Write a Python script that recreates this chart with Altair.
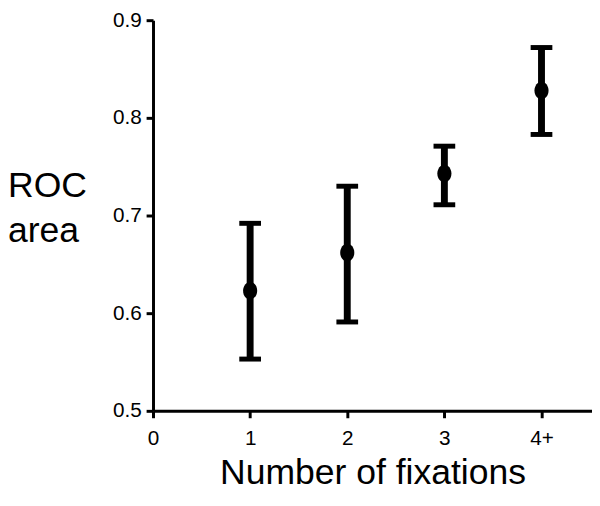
import altair as alt
import pandas as pd

x_pos = [1, 2, 3, 4]
roc_mean = [0.623, 0.662, 0.743, 0.828]
roc_low = [0.553, 0.591, 0.711, 0.783]
roc_high = [0.692, 0.730, 0.771, 0.872]
x_ticks = [0, 1, 2, 3, 4]
x_tick_labels = ["0", "1", "2", "3", "4+"]
y_ticks = [0.5, 0.6, 0.7, 0.8, 0.9]
y_title_lines = ["ROC", "area"]

df = pd.DataFrame({"x": x_pos, "m": roc_mean, "lo": roc_low, "hi": roc_high})

FONT = "Liberation Sans"
W, H = 445, 396

label_expr = " : ".join(
    f"datum.value == {v} ? '{l}'" for v, l in zip(x_ticks[:-1], x_tick_labels[:-1])
) + f" : '{x_tick_labels[-1]}'"

xs = alt.Scale(domain=[0, 4.52], nice=False, zero=False)
ys = alt.Scale(domain=[0.5, 0.9], nice=False, zero=False)

common = dict(grid=False, domainColor="#000000", domainWidth=3, domainOpacity=1,
              tickColor="#000000", tickWidth=3, tickSize=7, tickOpacity=1,
              labelFont=FONT, labelFontSize=21, labelColor="#000000", labelFlush=False)
xaxis = alt.Axis(values=x_ticks, labelExpr=label_expr, title="Number of fixations",
                 labelPadding=10, titleFont=FONT, titleFontSize=36, titleFontWeight="normal",
                 titleColor="#000000", titlePadding=8, **common)
yaxis = alt.Axis(values=y_ticks, format=".1f", title=None, labelPadding=5, **common)

base = alt.Chart(df)
rules = base.mark_rule(color="black", strokeWidth=7).encode(
    x=alt.X("x:Q", scale=xs, axis=xaxis), y=alt.Y("lo:Q", scale=ys, axis=yaxis), y2="hi:Q")
cap_lo = base.mark_tick(color="black", opacity=1, orient="horizontal", thickness=5, size=22).encode(
    x=alt.X("x:Q", scale=xs, axis=xaxis), y=alt.Y("lo:Q", scale=ys, axis=yaxis))
cap_hi = base.mark_tick(color="black", opacity=1, orient="horizontal", thickness=5, size=22).encode(
    x=alt.X("x:Q", scale=xs, axis=xaxis), y=alt.Y("hi:Q", scale=ys, axis=yaxis))
pts = base.mark_point(
    filled=True, color="black", opacity=1, size=320,
    shape="M-0.8,0A0.8,1,0,1,1,0.8,0A0.8,1,0,1,1,-0.8,0Z").encode(
    x=alt.X("x:Q", scale=xs, axis=xaxis), y=alt.Y("m:Q", scale=ys, axis=yaxis))

ylabs = [
    alt.Chart(pd.DataFrame({"t": [t]})).mark_text(
        font=FONT, fontSize=36, color="black", align="left", baseline="alphabetic").encode(
        x=alt.value(-147), y=alt.value(yv), text="t:N")
    for t, yv in zip(y_title_lines, [179, 225])
]

chart = alt.layer(rules, cap_lo, cap_hi, pts, *ylabs).properties(
    width=W, height=H,
    autosize=alt.AutoSizeParams(type="none"),
    padding={"left": 147, "top": 9, "right": 0, "bottom": 85},
).configure(background="white").configure_view(strokeWidth=0, stroke="transparent")

chart.save("out.html", embed_options={"renderer": "svg", "actions": False})
